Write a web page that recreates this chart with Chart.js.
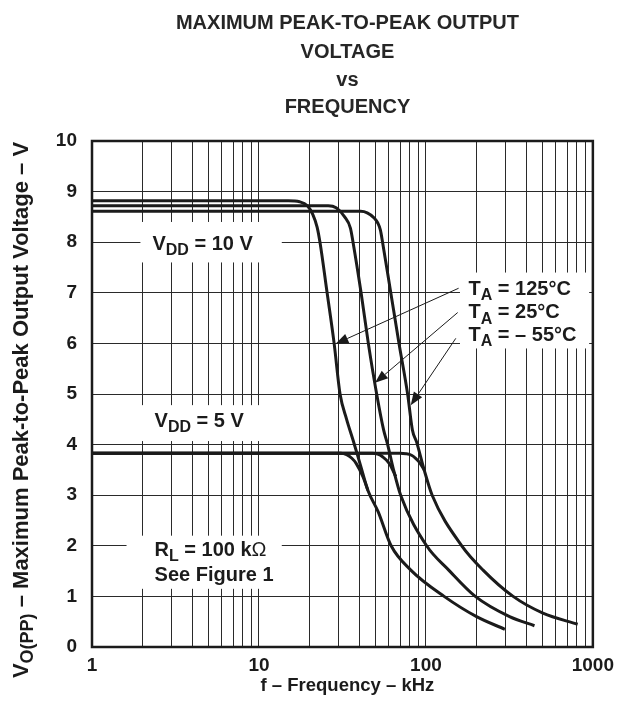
<!DOCTYPE html>
<html>
<head>
<meta charset="utf-8">
<script src="https://cdn.jsdelivr.net/npm/chart.js@4"></script>
<style>
  html, body { margin: 0; padding: 0; background: #fff; }
  #wrap { width: 621px; height: 706px; position: relative; }
</style>
</head>
<body>
<div id="wrap"><canvas id="chart"></canvas></div>
<script>
// curves: frequency in kHz, output in V
const freq125_10V = [1, 15, 17.5, 19.5, 21, 22.3, 23.2, 25.6, 28.2, 30.6, 33.5, 36.6, 40.5, 44.9, 51.8, 61.9, 81.2, 128.5, 201, 297];
const vpp125_10V  = [8.82, 8.82, 8.8, 8.72, 8.55, 8.3, 8.0, 7.0, 6.0, 5.0, 4.5, 4.09, 3.6, 3.1, 2.67, 2.0, 1.52, 1.0, 0.6, 0.35];
const freq125_5V  = [1, 31, 33.5, 36, 38.2, 41.9, 44.9];
const vpp125_5V   = [3.83, 3.83, 3.8, 3.73, 3.63, 3.37, 3.1];

const freq25_10V = [1, 26, 29, 32.6, 35.3, 36.6, 40.9, 45.2, 50.7, 55.8, 59, 64, 70.6, 101, 137, 197.6, 317, 447];
const vpp25_10V  = [8.72, 8.72, 8.68, 8.5, 8.28, 8.0, 7.0, 6.0, 5.0, 4.29, 4.0, 3.5, 3.0, 2.0, 1.52, 1.0, 0.6, 0.42];
const freq25_5V  = [1, 48, 51.5, 55, 60.3, 66];
const vpp25_5V   = [3.83, 3.83, 3.81, 3.76, 3.63, 3.37];

const freqM55_10V = [1, 40.7, 44.5, 49, 51.5, 53.4, 55, 61.6, 69, 77.7, 83, 88, 97.6, 109, 164, 220, 333, 502, 811];
const vppM55_10V  = [8.61, 8.61, 8.58, 8.48, 8.38, 8.24, 8.0, 7.0, 6.0, 5.0, 4.29, 4.05, 3.5, 3.0, 2.0, 1.52, 1.0, 0.67, 0.45];
const freqM55_5V  = [1, 70, 76, 82, 86.8, 91, 95.3, 97.6];
const vppM55_5V   = [3.83, 3.83, 3.82, 3.79, 3.73, 3.66, 3.56, 3.5];

// axes
const xGridValues = [1, 2, 3, 4, 5, 6, 7, 8, 9, 10, 20, 30, 40, 50, 60, 70, 80, 90, 100, 200, 300, 400, 500, 600, 700, 800, 900, 1000];
const xLabelValues = [1, 10, 100, 1000];
const yTickValues = [0, 1, 2, 3, 4, 5, 6, 7, 8, 9, 10];

const FONT = '"Liberation Sans", Arial, Helvetica, sans-serif';
const INK = '#1b1b1b';

function pts(xs, ys) {
  return xs.map((x, i) => ({ x: x, y: ys[i] }));
}

function curve(xs, ys) {
  return {
    data: pts(xs, ys),
    borderColor: INK,
    borderWidth: 3,
    pointRadius: 0,
    fill: false,
    cubicInterpolationMode: 'monotone'
  };
}

// text with subscripts, parts = [[text, isSub, weight?], ...]
function richText(ctx, parts, x, y, size, weight) {
  let cx = x;
  parts.forEach(p => {
    const sub = p[1];
    const s = sub ? Math.round(size * 0.82) : size;
    ctx.font = (p[2] || weight) + ' ' + s + 'px ' + FONT;
    ctx.fillText(p[0], cx, sub ? y + size * 0.27 : y);
    cx += ctx.measureText(p[0]).width;
  });
  return cx - x;
}

function richWidth(ctx, parts, size, weight) {
  let w = 0;
  parts.forEach(p => {
    const s = p[1] ? Math.round(size * 0.82) : size;
    ctx.font = (p[2] || weight) + ' ' + s + 'px ' + FONT;
    w += ctx.measureText(p[0]).width;
  });
  return w;
}

// white label boxes (in data units) and their text lines
const boxes = [
  { f: [1.95, 13.7], v: [8.4, 7.6] },
  { f: [1.93, 13.7], v: [4.78, 4.07] },
  { f: [1.61, 13.7], v: [2.2, 1.15] },
  { f: [160, 950], v: [7.4, 5.9] }
];
const labels = [
  { f: 2.3, v: 7.85, parts: [['V'], ['DD', true], [' = 10 V']] },
  { f: 2.37, v: 4.35, parts: [['V'], ['DD', true], [' = 5 V']] },
  { f: 2.37, v: 1.8, parts: [['R'], ['L', true], [' = 100 k'], ['\u03A9', false, 'normal']] },
  { f: 2.37, v: 1.3, parts: [['See Figure 1']] },
  { f: 180, v: 6.96, parts: [['T'], ['A', true], [' = 125\u00B0C']] },
  { f: 180, v: 6.5, parts: [['T'], ['A', true], [' = 25\u00B0C']] },
  { f: 180, v: 6.05, parts: [['T'], ['A', true], [' = \u2013 55\u00B0C']] }
];
const arrows = [
  { from: [157, 7.09], to: [28.7, 5.99] },
  { from: [155, 6.61], to: [49.6, 5.22] },
  { from: [151, 6.1], to: [81.1, 4.78] }
];

const decorPlugin = {
  id: 'decor',
  beforeDatasetsDraw(chart) {
    const ctx = chart.ctx, xs = chart.scales.x, ys = chart.scales.y;
    ctx.save();
    ctx.fillStyle = '#fff';
    boxes.forEach(b => {
      const x0 = xs.getPixelForValue(b.f[0]), x1 = xs.getPixelForValue(b.f[1]);
      const y0 = ys.getPixelForValue(b.v[0]), y1 = ys.getPixelForValue(b.v[1]);
      ctx.fillRect(x0, y0, x1 - x0, y1 - y0);
    });
    ctx.fillStyle = INK;
    ctx.textBaseline = 'alphabetic';
    ctx.textAlign = 'left';
    labels.forEach(l => {
      richText(ctx, l.parts, xs.getPixelForValue(l.f), ys.getPixelForValue(l.v), 20, 'bold');
    });
    ctx.restore();
  },
  afterDatasetsDraw(chart) {
    const ctx = chart.ctx, xs = chart.scales.x, ys = chart.scales.y, a = chart.chartArea;
    ctx.save();
    // frame
    ctx.strokeStyle = INK;
    ctx.lineWidth = 2.5;
    ctx.strokeRect(a.left, a.top, a.right - a.left, a.bottom - a.top);

    // arrows
    ctx.lineWidth = 1;
    ctx.fillStyle = INK;
    arrows.forEach(ar => {
      const x0 = xs.getPixelForValue(ar.from[0]), y0 = ys.getPixelForValue(ar.from[1]);
      const x1 = xs.getPixelForValue(ar.to[0]), y1 = ys.getPixelForValue(ar.to[1]);
      const ang = Math.atan2(y1 - y0, x1 - x0);
      const len = 13, half = 5;
      ctx.beginPath();
      ctx.moveTo(x0, y0);
      ctx.lineTo(x1 - len * Math.cos(ang), y1 - len * Math.sin(ang));
      ctx.stroke();
      ctx.beginPath();
      ctx.moveTo(x1, y1);
      ctx.lineTo(x1 - len * Math.cos(ang) + half * Math.sin(ang), y1 - len * Math.sin(ang) - half * Math.cos(ang));
      ctx.lineTo(x1 - len * Math.cos(ang) - half * Math.sin(ang), y1 - len * Math.sin(ang) + half * Math.cos(ang));
      ctx.closePath();
      ctx.fill();
    });

    // title
    const cx = (a.left + a.right) / 2 + 5;
    ctx.fillStyle = '#262626';
    ctx.textAlign = 'center';
    ctx.textBaseline = 'middle';
    ctx.font = 'bold 20px ' + FONT;
    ['MAXIMUM PEAK-TO-PEAK OUTPUT', 'VOLTAGE', 'vs', 'FREQUENCY'].forEach((t, i) => {
      ctx.fillText(t, cx, [23, 52, 80, 107][i]);
    });

    // x axis title
    ctx.fillStyle = INK;
    ctx.font = 'bold 18.5px ' + FONT;
    ctx.fillText('f \u2013 Frequency \u2013 kHz', cx, 686);

    // y axis title
    const yParts = [['V'], ['O(PP)', true], [' \u2013 Maximum Peak-to-Peak Output Voltage \u2013 V']];
    ctx.translate(22, 410);
    ctx.rotate(-Math.PI / 2);
    ctx.textAlign = 'left';
    ctx.textBaseline = 'middle';
    const w = richWidth(ctx, yParts, 22, 'bold');
    richText(ctx, yParts, -w / 2, 0, 22, 'bold');
    ctx.restore();
  }
};

const ctx = document.getElementById('chart').getContext('2d');
const chart = new Chart(ctx, {
  type: 'line',
  data: {
    datasets: [
      curve(freq125_10V, vpp125_10V),
      curve(freq125_5V, vpp125_5V),
      curve(freq25_10V, vpp25_10V),
      curve(freq25_5V, vpp25_5V),
      curve(freqM55_10V, vppM55_10V),
      curve(freqM55_5V, vppM55_5V)
    ]
  },
  options: {
    responsive: true,
    maintainAspectRatio: false,
    animation: false,
    layout: { padding: { top: 141, right: 24, left: 0, bottom: 0 } },
    plugins: {
      legend: { display: false },
      tooltip: { enabled: false },
      title: { display: false }
    },
    scales: {
      x: {
        type: 'logarithmic',
        min: 1,
        max: 1000,
        afterBuildTicks: s => { s.ticks = xGridValues.map(v => ({ value: v })); },
        afterFit: s => { s.height = 59; },
        grid: { color: '#2a2a2a', lineWidth: 1, drawTicks: false },
        border: { display: false },
        ticks: {
          autoSkip: false,
          maxRotation: 0,
          padding: 7,
          color: INK,
          font: { family: FONT, size: 19, weight: 'bold' },
          callback: v => xLabelValues.includes(v) ? String(v) : ''
        }
      },
      y: {
        min: 0,
        max: 10,
        afterBuildTicks: s => { s.ticks = yTickValues.map(v => ({ value: v })); },
        afterFit: s => { s.width = 92; },
        grid: { color: '#2a2a2a', lineWidth: 1, drawTicks: false },
        border: { display: false },
        ticks: {
          padding: 15,
          color: INK,
          font: { family: FONT, size: 19, weight: 'bold' }
        }
      }
    }
  },
  plugins: [decorPlugin]
});
</script>
</body>
</html>
